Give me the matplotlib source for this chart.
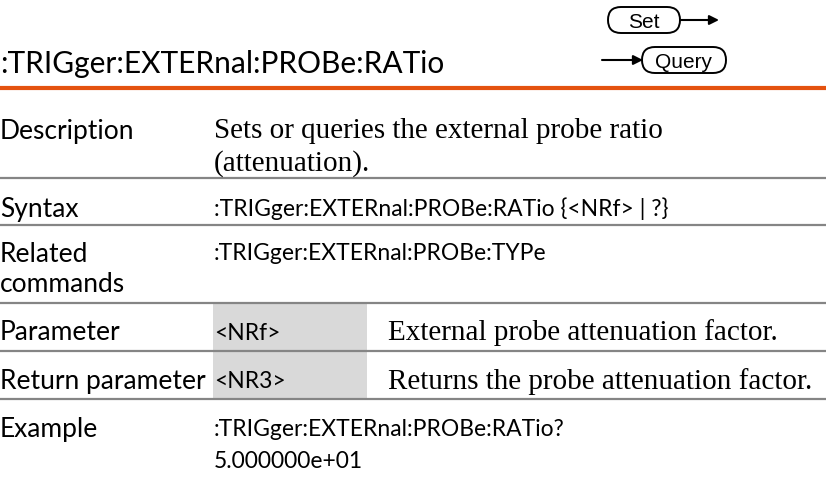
import matplotlib.pyplot as plt
from matplotlib.patches import FancyBboxPatch, Rectangle

# page content
title = ":TRIGger:EXTERnal:PROBe:RATio"
row_labels = ["Description", "Syntax", "Related\ncommands", "Parameter",
              "Return parameter", "Example"]
row_values = ["Sets or queries the external probe ratio\n(attenuation).",
              ":TRIGger:EXTERnal:PROBe:RATio {<NRf> | ?}",
              ":TRIGger:EXTERnal:PROBe:TYPe",
              "<NRf>",
              "<NR3>",
              ":TRIGger:EXTERnal:PROBe:RATio?\n5.000000e+01"]
row_notes = ["", "", "", "External probe attenuation factor.",
             "Returns the probe attenuation factor.", ""]
serif_rows = [0]

SANS = "Lato"
SERIF = "Liberation Serif"
ORANGE = "#E4520F"
GREY = "#858585"
SHADE = "#D9D9D9"

fig = plt.figure(figsize=(8.26, 4.89), dpi=100)
ax = fig.add_axes([0, 0, 1, 1])
ax.set_xlim(0, 826)
ax.set_ylim(489, 0)
ax.axis("off")

# header
ax.text(0, 73, title, fontsize=21.5, family=SANS, va="baseline", ha="left")
ax.plot([0, 826], [89, 89], color=ORANGE, lw=3, solid_capstyle="butt")

def pill(x0, x1, yc, label):
    h = 26
    ax.add_patch(FancyBboxPatch((x0, yc - h / 2), x1 - x0, h,
                                boxstyle="round,pad=0,rounding_size=13",
                                fc="white", ec="black", lw=1.4))
    ax.text((x0 + x1) / 2, yc + 1, label, fontsize=15, family="Liberation Sans",
            ha="center", va="center")

pill(608, 680, 21, "Set")
ax.annotate("", xy=(719, 21), xytext=(680, 21),
            arrowprops=dict(arrowstyle="-|>", color="black", lw=1.5,
                            mutation_scale=14, shrinkA=0, shrinkB=0))
pill(642, 726, 61, "Query")
ax.annotate("", xy=(643, 61), xytext=(602, 61),
            arrowprops=dict(arrowstyle="-|>", color="black", lw=1.5,
                            mutation_scale=14, shrinkA=0, shrinkB=0))

# table
row_y = [131, 209, 254, 333, 382, 430]
seps = [179, 226, 304, 352, 400]
line_gap = 31
col2 = 212
col3 = 388

for i in (3, 4):
    top = seps[i - 1] + 1
    ax.add_patch(Rectangle((213, top), 154, seps[i] - top - 1, fc=SHADE, ec="none"))

for y in seps:
    ax.plot([0, 826], [y, y], color=GREY, lw=1.6, solid_capstyle="butt")

for i, (lab, val, note) in enumerate(zip(row_labels, row_values, row_notes)):
    y = row_y[i]
    for k, part in enumerate(lab.split("\n")):
        ax.text(0, y + k * line_gap, part, fontsize=19, family=SANS,
                va="center", ha="left")
    fam = SERIF if i in serif_rows else SANS
    fs = 21 if i in serif_rows else 16.5
    gap = 33 if i in serif_rows else line_gap
    for k, part in enumerate(val.split("\n")):
        ax.text(col2 + 2, y + k * gap, part, fontsize=fs, family=fam,
                va="center", ha="left")
    if note:
        ax.text(col3, y, note, fontsize=21, family=SERIF, va="center", ha="left")

fig.savefig("out.png", dpi=100)
